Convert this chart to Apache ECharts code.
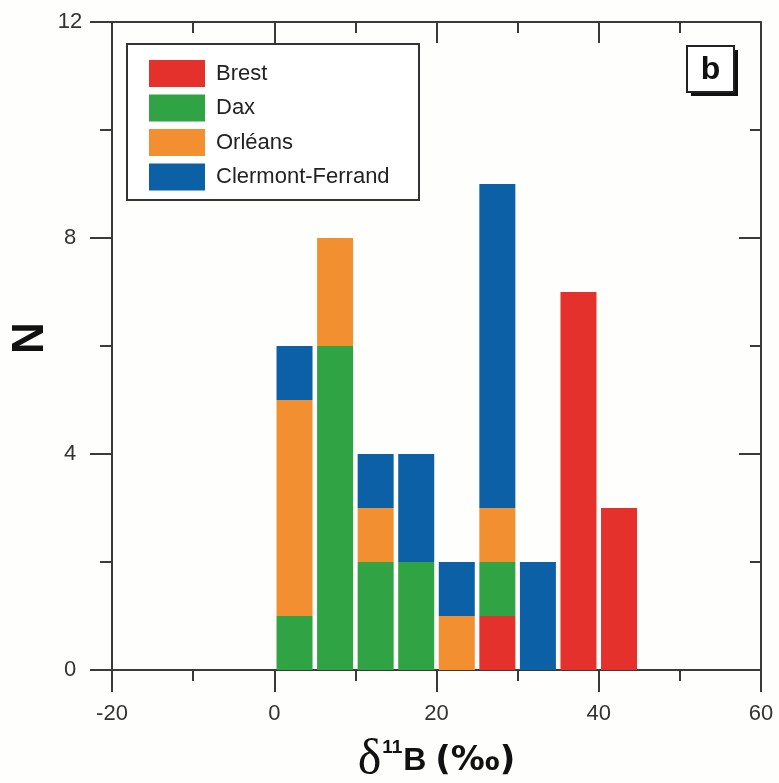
<!DOCTYPE html>
<html>
<head>
<meta charset="utf-8">
<script src="https://cdn.jsdelivr.net/npm/echarts@6/dist/echarts.min.js"></script>
<style>
html,body{margin:0;padding:0;background:#fefefc;}
#c{width:779px;height:783px;}
</style>
</head>
<body>
<div id="c"></div>
<script>
// bin centres (δ11B, ‰), bins 5 wide
const binCenters = [2.5, 7.5, 12.5, 17.5, 22.5, 27.5, 32.5, 37.5, 42.5];
const brest    = [0, 0, 0, 0, 0, 1, 0, 7, 3];
const dax      = [1, 6, 2, 2, 0, 1, 0, 0, 0];
const orleans  = [4, 2, 1, 0, 1, 1, 0, 0, 0];
const clermont = [1, 0, 1, 2, 1, 6, 2, 0, 0];
const seriesNames = ['Brest', 'Dax', 'Orléans', 'Clermont-Ferrand'];
const seriesColors = ['#e4312b', '#30a345', '#f28f30', '#0c60a5'];
const xTicks = [-20, 0, 20, 40, 60];
const yTicks = [0, 4, 8, 12];
const yTitle = 'N';

const chart = echarts.init(document.getElementById('c'));
const values = [brest, dax, orleans, clermont];
const axisCol = '#3a3a3a';
const font = '"Liberation Sans", Arial, sans-serif';
const BAR_HALF = 18;

// cumulative stacking bases
const bases = values.map(() => binCenters.map(() => 0));
for (let i = 1; i < values.length; i++) {
  for (let k = 0; k < binCenters.length; k++) {
    bases[i][k] = bases[i - 1][k] + values[i - 1][k];
  }
}

function mk(vals, i) {
  return {
    name: seriesNames[i],
    type: 'custom',
    xAxisIndex: 0,
    yAxisIndex: 0,
    itemStyle: { color: seriesColors[i] },
    encode: { x: 0, y: [1, 2] },
    data: binCenters.map((c, k) => [c, bases[i][k], bases[i][k] + vals[k]]).filter(d => d[2] > d[1]),
    renderItem: function (params, api) {
      const c = api.value(0), b = api.value(1), t = api.value(2);
      const p0 = api.coord([c, b]);
      const p1 = api.coord([c, t]);
      return {
        type: 'rect',
        shape: { x: p0[0] - BAR_HALF, y: p1[1], width: BAR_HALF * 2, height: p0[1] - p1[1] },
        style: { fill: seriesColors[i] }
      };
    }
  };
}

const option = {
  backgroundColor: '#fefefc',
  animation: false,
  grid: { left: 112, right: 18, top: 22, bottom: 113, outerBoundsMode: 'none', containLabel: false },
  legend: {
    orient: 'vertical',
    left: 144, top: 55,
    itemWidth: 56, itemHeight: 27, itemGap: 7.5,
    icon: 'rect',
    data: seriesNames.map((n, i) => ({ name: n, itemStyle: { color: seriesColors[i] } })),
    textStyle: { fontFamily: font, fontSize: 22, color: '#222', padding: [0, 0, 0, 6] }
  },
  xAxis: [{
    type: 'value', min: xTicks[0], max: xTicks[xTicks.length - 1], interval: 20,
    position: 'bottom',
    axisLine: { onZero: false, lineStyle: { color: axisCol, width: 2 } },
    axisTick: { inside: false, length: 22, lineStyle: { color: axisCol, width: 2 } },
    minorTick: { show: true, splitNumber: 2, length: 11, lineStyle: { color: axisCol, width: 2 } },
    splitLine: { show: false },
    axisLabel: { margin: 33, fontFamily: font, fontSize: 22, color: '#333' },
    name: '{d|δ}{s|11}{b|B }{p|(‰)}',
    nameLocation: 'middle',
    nameMoveOverlap: false,
    nameGap: 66,
    nameTextStyle: {
      rich: {
        d: { fontFamily: '"Liberation Serif", "DejaVu Serif", serif', fontSize: 50, color: '#111' },
        s: { fontFamily: font, fontSize: 19, fontWeight: 'bold', color: '#111', verticalAlign: 'top', padding: [2, 1, 0, 1] },
        b: { fontFamily: font, fontSize: 32, fontWeight: 'bold', color: '#111' },
        p: { fontFamily: '"DejaVu Sans", sans-serif', fontSize: 34, fontWeight: 'bold', color: '#111' }
      }
    }
  }, {
    type: 'value', min: xTicks[0], max: xTicks[xTicks.length - 1], interval: 20,
    position: 'top',
    axisLine: { onZero: false, lineStyle: { color: axisCol, width: 2 } },
    axisTick: { inside: true, length: 21, lineStyle: { color: axisCol, width: 2 } },
    minorTick: { show: true, splitNumber: 2, length: 11, lineStyle: { color: axisCol, width: 2 } },
    splitLine: { show: false },
    axisLabel: { show: false }
  }],
  yAxis: [{
    type: 'value', min: yTicks[0], max: yTicks[yTicks.length - 1], interval: 4,
    position: 'left',
    axisLine: { show: true, onZero: false, lineStyle: { color: axisCol, width: 2 } },
    axisTick: { show: true, inside: false, length: 22, lineStyle: { color: axisCol, width: 2 } },
    minorTick: { show: true, splitNumber: 2, length: 12, lineStyle: { color: axisCol, width: 2 } },
    splitLine: { show: false },
    axisLabel: { margin: 42, align: 'center', fontFamily: font, fontSize: 22, color: '#333' }
  }, {
    type: 'value', min: yTicks[0], max: yTicks[yTicks.length - 1], interval: 4,
    position: 'right',
    axisLine: { show: true, onZero: false, lineStyle: { color: axisCol, width: 2 } },
    axisTick: { show: true, inside: true, length: 22, lineStyle: { color: axisCol, width: 2 } },
    minorTick: { show: true, splitNumber: 2, length: 11, lineStyle: { color: axisCol, width: 2 } },
    splitLine: { show: false },
    axisLabel: { show: false }
  }],
  graphic: [
    { type: 'text', x: 31, y: 338, rotation: Math.PI / 2,
      style: { text: yTitle, font: 'bold 44px "Liberation Sans", Arial, sans-serif', fill: '#111',
        textAlign: 'center', textVerticalAlign: 'middle' } },
    { type: 'rect', z: 0, shape: { x: 127, y: 44, width: 292, height: 156 },
      style: { fill: '#fff', stroke: '#333', lineWidth: 2 } },
    { type: 'rect', shape: { x: 691, y: 50, width: 47, height: 46 }, style: { fill: '#111' } },
    { type: 'rect', shape: { x: 687, y: 46, width: 47, height: 46 },
      style: { fill: '#fff', stroke: '#222', lineWidth: 2 } },
    { type: 'text', x: 710.5, y: 70, style: { text: 'b', font: 'bold 32px "Liberation Sans", Arial, sans-serif',
      fill: '#111', textAlign: 'center', textVerticalAlign: 'middle' } }
  ],
  series: values.map((v, i) => mk(v, i))
};
chart.setOption(option);
</script>
</body>
</html>
